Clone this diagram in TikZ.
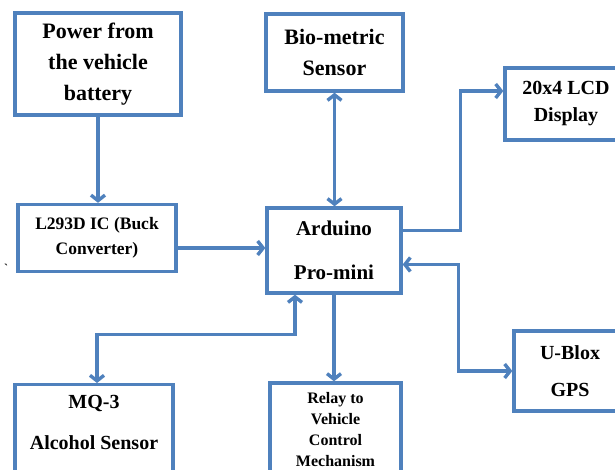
\documentclass[tikz,border=0pt]{standalone}
\usepackage{fontspec}
\setmainfont{Liberation Serif}
\usetikzlibrary{arrows.meta}
\definecolor{boxblue}{RGB}{79,129,189}
\tikzset{
  box/.style={draw=boxblue, line width=3.4pt, align=center, inner sep=2pt},
  wire/.style={draw=boxblue, line width=3.4pt},
  txt/.style={align=center, inner sep=0pt}
}
\newcommand{\fs}[2]{\fontsize{#1}{#2}\selectfont\bfseries}
\begin{document}
\begin{tikzpicture}[x=1pt, y=-1pt, >={Straight Barb[length=5.5pt,width=14pt]}]
				% 1. page frame (pixel grid of the original)
				\useasboundingbox[fill=white] (0,0) rectangle (615,470);
				
				% 2. blocks
				\node[box, minimum width=166, minimum height=102, font=\fs{22}{31}] (pow) at (98,64) {Power from\\the vehicle\\battery};
				\node[box, minimum width=137, minimum height=77, font=\fs{22}{31}] (bio) at (334.5,52.5) {Bio-metric\\Sensor};
				\node[box, minimum width=122, minimum height=72, font=\fs{20}{27}] (lcd) at (566,104) {20x4 LCD\\Display};
				\node[box, minimum width=158, minimum height=67, font=\fs{17.5}{25}] (buck) at (97,238) {L293D IC (Buck\\Converter)};
				\node[box, minimum width=134, minimum height=85, font=\fs{21}{44}] (ard) at (334,250.5) {Arduino\\Pro-mini};
				\node[box, minimum width=112, minimum height=80, font=\fs{20}{37}] (gps) at (570,371) {U-Blox\\GPS};
				\node[box, minimum width=131, minimum height=94, font=\fs{16}{21}] (relay) at (335.5,430) {Relay to\\Vehicle\\Control\\Mechanism};
				\node[box, minimum width=158, minimum height=100, anchor=north] (mq) at (94,383) {};
				\node[txt, font=\fs{20}{41}] (mqtxt) at (94,422) {MQ-3\\Alcohol Sensor};
				\node[txt, font=\fs{12}{14}] (tick) at (6,268) {\textasciigrave};
				
				% 3. connectors
				\draw[wire, ->] (pow.south) -- (pow.south |- buck.north);
				\draw[wire, <->] (bio.south) -- (bio.south |- ard.north);
				\draw[wire, ->] ([yshift=-10pt]buck.east) -- ([yshift=-10pt]buck.east -| ard.west);
				\draw[wire, ->] ([yshift=20pt]ard.east) -- ++(58,0) |- ([yshift=13pt]lcd.west);
				\draw[wire, <->] ([yshift=-14pt]ard.east) -- ++(56,0) |- (gps.west);
				\draw[wire, <->] ([xshift=-39pt]ard.south) -- ++(0,40) -| ([xshift=3pt]mq.north);
				\draw[wire, ->] (ard.south) -- (ard.south |- relay.north);
			\end{tikzpicture}
\end{document}
